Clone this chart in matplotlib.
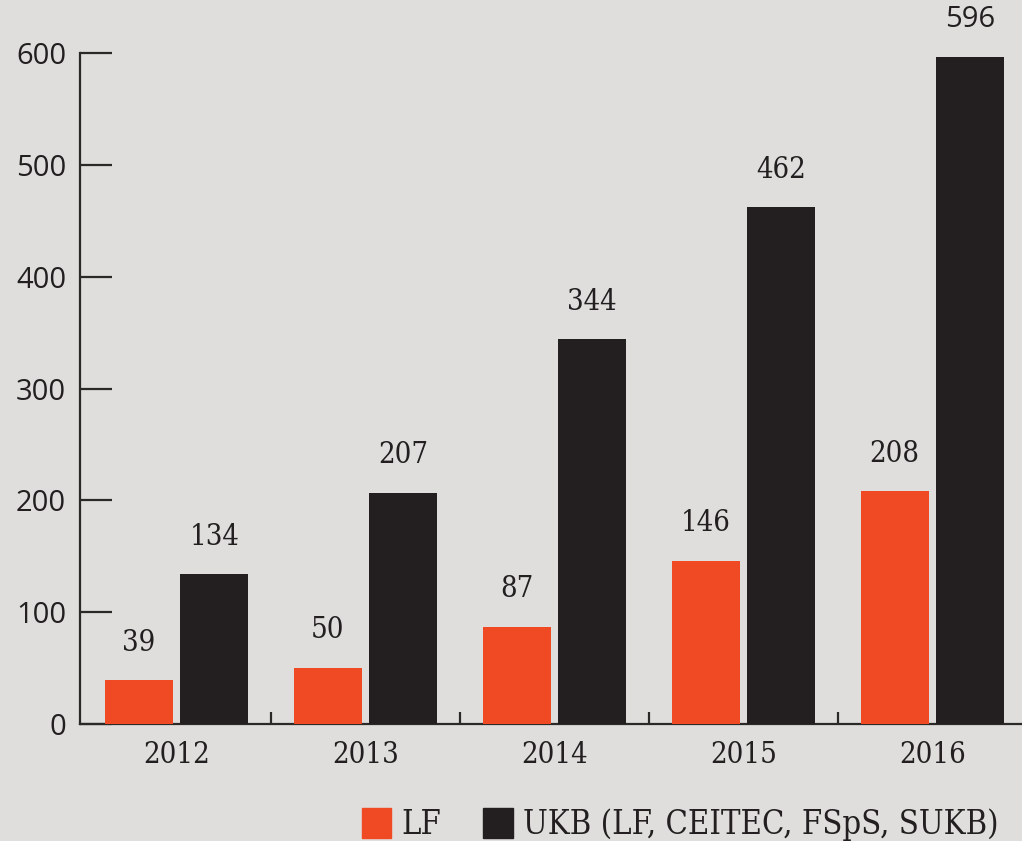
import matplotlib
matplotlib.use('Agg')
import numpy as np
import matplotlib.pyplot as plt
from matplotlib.patches import Patch
from matplotlib import font_manager

years = ['2012', '2013', '2014', '2015', '2016']
lf = [39, 50, 87, 146, 208]
ukb = [134, 207, 344, 462, 596]
series_names = ['LF', 'UKB (LF, CEITEC, FSpS, SUKB)']

BG = '#dfdedd'
ORANGE = '#f04a24'
BLACK = '#231f20'
serif = font_manager.FontProperties(family='DejaVu Serif', stretch='condensed', size=21)
serif_leg = font_manager.FontProperties(family='DejaVu Serif', stretch='condensed', size=23.5)
sans = font_manager.FontProperties(family='Open Sans', size=21)

fig = plt.figure(figsize=(10.22, 8.41), dpi=100, facecolor=BG)
ax = fig.add_axes([80 / 1022, 117 / 841, 942 / 1022, 671 / 841], facecolor=BG)

x = np.arange(len(years))
w = 0.36
b1 = ax.bar(x - 0.2, lf, w, color=ORANGE, zorder=3)
b2 = ax.bar(x + 0.2, ukb, w, color=BLACK, zorder=3)

for rect, v in zip(b1, lf):
    ax.annotate(str(v), (rect.get_x() + rect.get_width() / 2, v), xytext=(0, 17),
                textcoords='offset points', ha='center', va='bottom',
                fontproperties=serif, color=BLACK, annotation_clip=False)
for rect, v in zip(b2, ukb):
    fp = sans if v == max(ukb) else serif
    ax.annotate(str(v), (rect.get_x() + rect.get_width() / 2, v), xytext=(0, 17),
                textcoords='offset points', ha='center', va='bottom',
                fontproperties=fp, color=BLACK, annotation_clip=False)

ax.set_xlim(-0.5 - 2 / 189, 4.5 - 5 / 189)
ax.set_ylim(0, 600)
ax.set_yticks(range(0, 601, 100))
for lab in ax.get_yticklabels():
    lab.set_fontproperties(sans)
ax.tick_params(axis='y', direction='in', length=23, width=1.6, color='#2b2828',
               pad=10, labelcolor=BLACK)

# separators between years as major ticks, year labels as minor ticks
ax.set_xticks(np.arange(0.5, 4.5, 1))
ax.set_xticklabels([])
ax.set_xticks(x, minor=True)
ax.set_xticklabels(years, minor=True)
for lab in ax.get_xticklabels(minor=True):
    lab.set_fontproperties(serif)
ax.tick_params(axis='x', which='major', direction='in', length=9, width=1.6, color='#2b2828')
ax.tick_params(axis='x', which='minor', length=0, pad=12, labelcolor=BLACK)

for s in ['top', 'right']:
    ax.spines[s].set_visible(False)
for s in ['left', 'bottom']:
    ax.spines[s].set_linewidth(1.6)
    ax.spines[s].set_color('#2b2828')

handles = [Patch(color=ORANGE), Patch(color=BLACK)]
fig.legend(handles, series_names, loc='lower left', bbox_to_anchor=(362 / 1022, 0.0),
           ncol=2, frameon=False, prop=serif_leg, handlelength=0.9, handleheight=1.05,
           handletextpad=0.3, columnspacing=1.3, borderpad=0, borderaxespad=0,
           labelcolor=BLACK)

fig.savefig('out.png', dpi=100, facecolor=BG)
